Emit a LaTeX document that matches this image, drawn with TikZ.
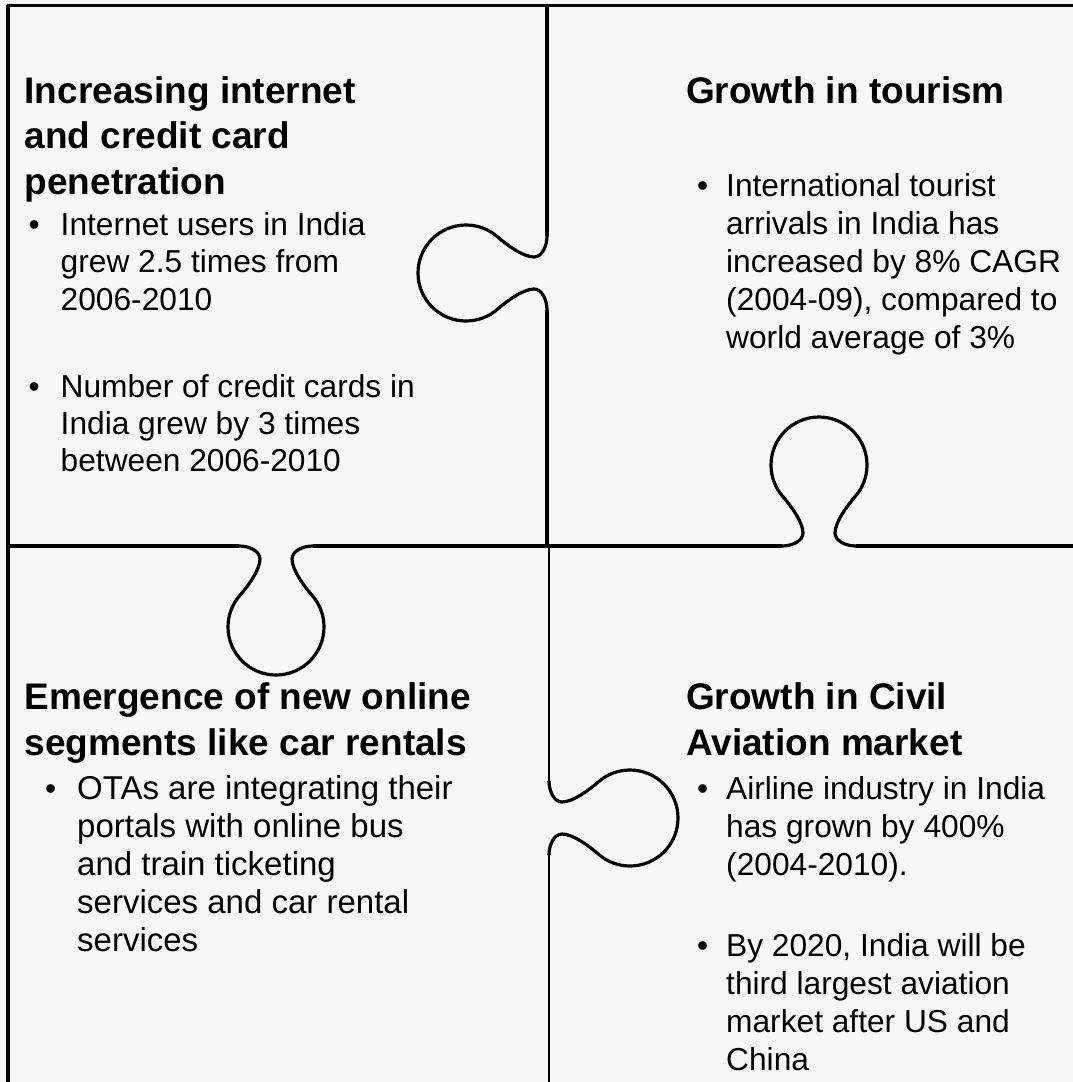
\documentclass[tikz,border=0pt]{standalone}
\usepackage{fontspec}
\setmainfont{Liberation Sans}
\begin{document}
\begin{tikzpicture}[x=1pt,y=-1pt,
  seam/.style={line width=3.2pt, line cap=butt, line join=round, draw=black},
  headline/.style={anchor=base west, inner sep=0pt, font=\fontsize{37}{45}\selectfont\bfseries},
  bodyline/.style={anchor=base west, inner sep=0pt, font=\fontsize{31.7}{38}\selectfont},
  widebody/.style={bodyline, font=\fontsize{33}{38}\selectfont},
  dot/.style={bodyline},
  % one tab of a jigsaw seam: the seam runs along local x, the tab bulges towards local +y
  knob/.pic={\draw[seam] (-37,0) .. controls (-27,0) and (-16,5) .. (-16,13)
     .. controls (-16,24) and (-28.3,40.4) .. (-36.2,49.5)
     .. controls (-43.8,58.2) and (-48,69.4) .. (-48,81)
     .. controls (-48,107.5) and (-26.5,129) .. (0,129)
     .. controls (26.5,129) and (48,107.5) .. (48,81)
     .. controls (48,69.4) and (43.8,58.2) .. (36.2,49.5)
     .. controls (28.3,40.4) and (16,24) .. (16,13)
     .. controls (16,5) and (27,0) .. (37,0);}
]
\definecolor{paper}{HTML}{F7F7F7}
\useasboundingbox (0,0) rectangle (1073,1082);
\fill[paper] (0,0) rectangle (1073,1082);
\clip (0,0) rectangle (1073,1082);

% outer frame (left and top edges)
\draw[seam] (8,1090) -- (8,5.5) -- (1080,5.5);

% upper vertical seam with a tab pointing left
\draw[seam, line width=3.6pt] (547,5.5) -- (547,236);
\pic[rotate=-90] at (547,273) {knob};
\draw[seam, line width=3.6pt] (547,310) -- (547,546);

% horizontal seam with a tab down (left) and a tab up (right)
\draw[seam] (8,546) -- (239,546);
\pic at (276,546) {knob};
\draw[seam] (313,546) -- (782,546);
\pic[rotate=180] at (819,546) {knob};
\draw[seam] (856,546) -- (1080,546);

% lower vertical seam with a tab pointing right
\draw[seam, line width=2.8pt] (549,546) -- (549,781);
\pic[rotate=90] at (549,818) {knob};
\draw[seam, line width=2.8pt] (549,855) -- (549,1090);

% top-left piece
\node[headline] (tl1) at (24.5,103) {Increasing internet};
\node[headline] (tl2) at (24.5,148.5) {and credit card};
\node[headline] (tl3) at (24.5,194) {penetration};
\node[dot] (tlb1) at (28.5,235) {•};
\node[bodyline] (tla1) at (60.5,235) {Internet users in India};
\node[bodyline] (tla2) at (60.5,272.5) {grew 2.5 times from};
\node[bodyline] (tla3) at (60.5,310) {2006-2010};
\node[dot] (tlb2) at (28.5,397) {•};
\node[bodyline] (tlc1) at (60.5,397) {Number of credit cards in};
\node[bodyline] (tlc2) at (60.5,434) {India grew by 3 times};
\node[bodyline] (tlc3) at (60.5,471) {between 2006-2010};

% top-right piece
\node[headline] (tr1) at (686,103) {Growth in tourism};
\node[dot] (trb1) at (697,196) {•};
\node[bodyline] (tra1) at (726,196) {International tourist};
\node[bodyline] (tra2) at (726,234) {arrivals in India has};
\node[bodyline] (tra3) at (726,272) {increased by 8\% CAGR};
\node[bodyline] (tra4) at (726,310) {(2004-09), compared to};
\node[bodyline] (tra5) at (726,348) {world average of 3\%};

% bottom-left piece
\node[headline] (bl1) at (24.5,709) {Emergence of new online};
\node[headline] (bl2) at (24.5,755) {segments like car rentals};
\node[dot] (blb1) at (45,799) {•};
\node[widebody] (bla1) at (77,799) {OTAs are integrating their};
\node[widebody] (bla2) at (77,837) {portals with online bus};
\node[widebody] (bla3) at (77,875) {and train ticketing};
\node[widebody] (bla4) at (77,913) {services and car rental};
\node[widebody] (bla5) at (77,951) {services};

% bottom-right piece
\node[headline] (br1) at (686,709) {Growth in Civil};
\node[headline] (br2) at (686,755) {Aviation market};
\node[dot] (brb1) at (697,799) {•};
\node[bodyline] (bra1) at (726,799) {Airline industry in India};
\node[bodyline] (bra2) at (726,837) {has grown by 400\%};
\node[bodyline] (bra3) at (726,875) {(2004-2010).};
\node[dot] (brb2) at (697,956) {•};
\node[bodyline] (brc1) at (726,956) {By 2020, India will be};
\node[bodyline] (brc2) at (726,994) {third largest aviation};
\node[bodyline] (brc3) at (726,1032) {market after US and};
\node[bodyline] (brc4) at (726,1070) {China};
\end{tikzpicture}
\end{document}
